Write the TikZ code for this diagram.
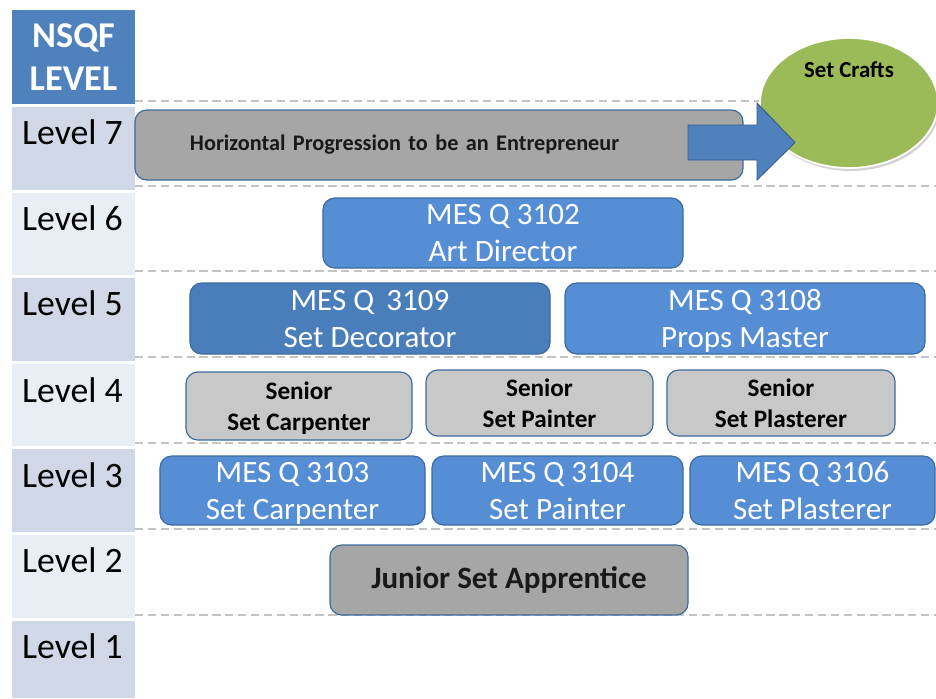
\documentclass[tikz,border=0pt]{standalone}
\usepackage{fontspec}
\setmainfont{Carlito}
\usetikzlibrary{shapes.geometric,shadows}
\definecolor{hdrblue}{HTML}{4F81BD}
\definecolor{rowdark}{HTML}{D0D8E8}
\definecolor{rowlight}{HTML}{E9EDF4}
\definecolor{boxblue}{HTML}{558ED5}
\definecolor{boxbluedk}{HTML}{4A7EBB}
\definecolor{edgeblue}{HTML}{3C6A9E}
\definecolor{graydark}{HTML}{A6A6A6}
\definecolor{graylight}{HTML}{C8C8C8}
\definecolor{craftgreen}{HTML}{9BBB59}
\definecolor{dashgray}{HTML}{C4C4C4}
\definecolor{arrowedge}{HTML}{385D8A}
% first line gets a fixed height, second line is smashed, so every
% two-line label sits at the same height whatever its letters
\newcommand\padtop{\rule{0pt}{0.66em}}
\newcommand\lowline[1]{\smash{#1}}

\begin{document}
\begin{tikzpicture}[x=0.03cm,y=-0.03cm,
  cell/.style={rectangle,inner sep=0pt,minimum width=3.69cm},
  lvl/.style={anchor=base,text=black,font=\fontsize{30.5}{34}\selectfont},
  sep/.style={dashgray,line width=1.2pt,dash pattern=on 7pt off 4pt},
  rbox/.style={rectangle,rounded corners=10pt,draw=edgeblue,line width=1pt,
    inner sep=0pt,align=center},
  bluebox/.style={rbox,fill=boxblue,text=white,
    font=\fontsize{26.5}{32}\selectfont},
  senior/.style={rbox,fill=graylight,text=black,
    font=\bfseries\fontsize{21.5}{26.5}\selectfont},
]
\useasboundingbox (0,0) rectangle (936,698);

% level column
\node[cell,fill=hdrblue,minimum height=2.82cm,text=white,align=center,
  font=\bfseries\fontsize{31}{36.6}\selectfont] (hdr) at (73.5,57) {NSQF\\LEVEL};
\node[cell,fill=rowdark, minimum height=2.49cm] (c7) at (73.5,148.5) {};
\node[cell,fill=rowlight,minimum height=2.46cm] (c6) at (73.5,234) {};
\node[cell,fill=rowdark, minimum height=2.49cm] (c5) at (73.5,319.5) {};
\node[cell,fill=rowlight,minimum height=2.46cm] (c4) at (73.5,405) {};
\node[cell,fill=rowdark, minimum height=2.49cm] (c3) at (73.5,490.5) {};
\node[cell,fill=rowlight,minimum height=2.49cm] (c2) at (73.5,576.5) {};
\node[cell,fill=rowdark, minimum height=2.31cm] (c1) at (73.5,659.5) {};
\node[lvl] (l7) at (72.5,144) {Level 7};
\node[lvl] (l6) at (72.5,230) {Level 6};
\node[lvl] (l5) at (72.5,315) {Level 5};
\node[lvl] (l4) at (72.5,402) {Level 4};
\node[lvl] (l3) at (72.5,487) {Level 3};
\node[lvl] (l2) at (72.5,572) {Level 2};
\node[lvl] (l1) at (72.5,658) {Level 1};

% row separators
\foreach \yy in {101,186,271,357,443,529,615}
  \draw[sep] (135,\yy) -- (936,\yy);

% target of the horizontal progression
\node[ellipse,fill=craftgreen,draw=white,line width=1.5pt,
  minimum width=5.34cm,minimum height=3.9cm,inner sep=0pt,
  drop shadow={opacity=0.35,shadow xshift=1.5pt,shadow yshift=-2.5pt},
  label={[yshift=0.99cm,font=\bfseries\fontsize{19.5}{22}\selectfont]center:Set Crafts}]
  (crafts) at (849,103) {};

% level 7
\node[rbox,fill=graydark,minimum width=18.24cm,minimum height=2.1cm,
  text width=14.94cm,inner xsep=1.65cm,align=left,text=black!90,
  font=\bfseries\fontsize{19}{22}\selectfont] (horiz) at (439,145)
  {Horizontal Progression to be an Entrepreneur};
\coordinate (ar) at (688,142.5);
\draw[fill=hdrblue,draw=arrowedge,line width=0.8pt]
  (ar) ++(0,-17.5) -- ++(69,0) -- ++(0,-22) -- (795,142.5)
  -- (757,180) -- ++(0,-20) -- ++(-69,0) -- cycle;

% level 6
\node[bluebox,minimum width=10.8cm,minimum height=2.1cm] (artdir) at (503,233)
  {\padtop MES Q 3102\\\lowline{Art Director}};

% level 5
\node[bluebox,fill=boxbluedk,minimum width=10.8cm,minimum height=2.13cm] (setdec) at (370,318.5)
  {\padtop MES Q \,3109\\\lowline{Set Decorator}};
\node[bluebox,minimum width=10.8cm,minimum height=2.13cm] (props) at (745,318.5)
  {\padtop MES Q 3108\\\lowline{Props Master}};

% level 4
\node[senior,minimum width=6.78cm,minimum height=2.04cm] (scarp) at (299,406)
  {\padtop Senior\\\lowline{Set Carpenter}};
\node[senior,minimum width=6.81cm,minimum height=1.98cm] (spaint) at (539.5,403)
  {\padtop Senior\\\lowline{Set Painter}};
\node[senior,minimum width=6.84cm,minimum height=1.98cm] (splast) at (781,403)
  {\padtop Senior\\\lowline{Set Plasterer}};

% level 3
\node[bluebox,minimum width=7.95cm,minimum height=2.07cm] (carp) at (292.5,490.5)
  {\padtop MES Q 3103\\\lowline{Set Carpenter}};
\node[bluebox,minimum width=7.53cm,minimum height=2.07cm] (paint) at (557.5,490.5)
  {\padtop MES Q 3104\\\lowline{Set Painter}};
\node[bluebox,minimum width=7.35cm,minimum height=2.07cm] (plast) at (812.5,490.5)
  {\padtop MES Q 3106\\\lowline{Set Plasterer}};

% level 2
\node[rbox,fill=graydark,minimum width=10.74cm,minimum height=2.1cm,text=black!90,
  font=\bfseries\fontsize{26.5}{30}\selectfont] (junior) at (509,580)
  {Junior Set Apprentice};
\end{tikzpicture}
\end{document}
